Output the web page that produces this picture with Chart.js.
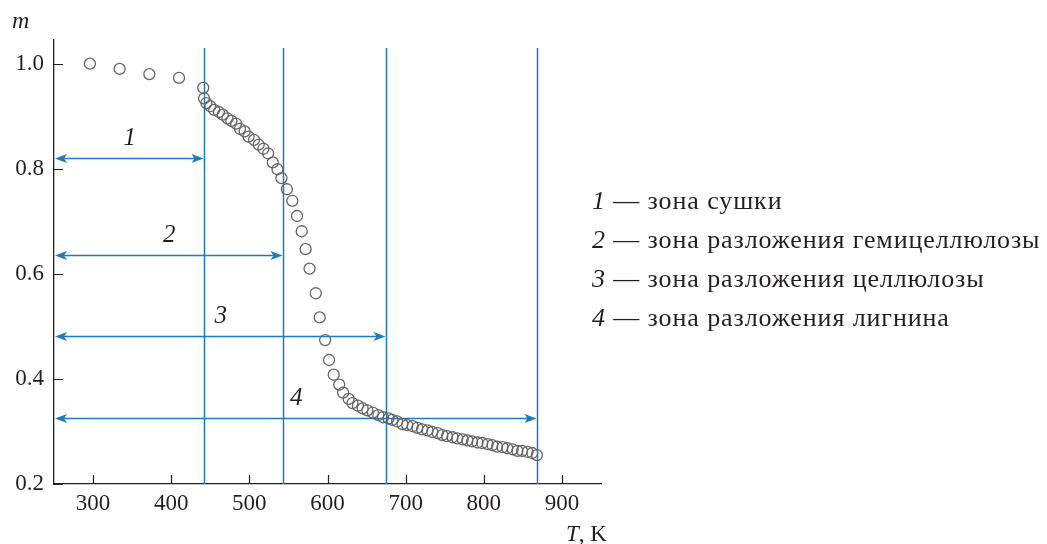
<!DOCTYPE html>
<html>
<head>
<meta charset="utf-8">
<script src="https://cdn.jsdelivr.net/npm/chart.js@4.4.1/dist/chart.umd.min.js"></script>
<style>
  html, body { margin: 0; padding: 0; background: #fff; }
  #wrap { position: relative; width: 1047px; height: 544px; font-family: "Liberation Serif", "DejaVu Serif", serif; color: #231f20; }
  #wrap canvas { position: absolute; left: 0; top: 0; }
  .lbl { position: absolute; font-size: 23px; white-space: nowrap; line-height: 1; }
  .legend-row { position: absolute; left: 592px; font-size: 26px; letter-spacing: 0.9px; white-space: nowrap; line-height: 1; }
</style>
</head>
<body>
<div id="wrap">
  <canvas id="massChart" width="1047" height="544"></canvas>
  <div class="lbl" style="left:12px; top:8px; font-size:24px;"><i>m</i></div>
  <div class="lbl" style="left:566px; top:522px;"><i>T</i>, K</div>
  <div id="legend"></div>
</div>
<script>
// Температура, К
const temperatureK = [
  296, 334, 372, 410, 441, 442, 445, 450, 455, 461,
  466, 472, 477, 483, 488, 494, 499, 506, 512, 518,
  524, 530, 536, 541, 548, 555, 561, 567, 572, 577,
  585, 590, 597, 602, 608, 615, 620, 627, 632, 639,
  645, 651, 658, 665, 671, 678, 683, 689, 696, 702,
  709, 715, 721, 728, 734, 741, 747, 753, 760, 766,
  773, 779, 785, 792, 798, 805, 811, 817, 824, 830,
  837, 843, 849, 856, 862, 868
];
// Относительная масса m
const massFraction = [
  1.000, 0.990, 0.980, 0.973, 0.954, 0.934, 0.925, 0.919, 0.912, 0.908,
  0.903, 0.896, 0.891, 0.886, 0.876, 0.871, 0.861, 0.855, 0.846, 0.838,
  0.829, 0.812, 0.799, 0.782, 0.761, 0.739, 0.710, 0.681, 0.647, 0.610,
  0.563, 0.517, 0.474, 0.436, 0.408, 0.389, 0.374, 0.362, 0.354, 0.349,
  0.344, 0.340, 0.336, 0.331, 0.327, 0.325, 0.322, 0.319, 0.314, 0.312,
  0.310, 0.307, 0.304, 0.302, 0.299, 0.297, 0.293, 0.291, 0.289, 0.287,
  0.285, 0.283, 0.281, 0.279, 0.278, 0.276, 0.274, 0.271, 0.270, 0.268,
  0.266, 0.263, 0.263, 0.261, 0.259, 0.255
];

const xTickValues = [300, 400, 500, 600, 700, 800, 900];
const yTickValues = [0.2, 0.4, 0.6, 0.8, 1.0];

// Границы зон (К) и уровень стрелок (m)
const zoneBoundaryK = [442, 543, 675, 868];
const zoneArrowM = [0.82, 0.635, 0.482, 0.326];
const zoneNumbers = ['1', '2', '3', '4'];
const zoneNames = [
  'зона сушки',
  'зона разложения гемицеллюлозы',
  'зона разложения целлюлозы',
  'зона разложения лигнина'
];

const ZONE_COLOR = '#1f7ac2';
const FONT_FAMILY = '"Liberation Serif", "DejaVu Serif", serif';
const TEXT_COLOR = '#231f20';

// легенда справа - обычный HTML текст
const legendBox = document.getElementById('legend');
zoneNames.forEach((name, i) => {
  const row = document.createElement('div');
  row.className = 'legend-row';
  row.style.top = (188 + i * 39) + 'px';
  row.innerHTML = '<i>' + zoneNumbers[i] + '</i> — ' + name;
  legendBox.appendChild(row);
});

function drawArrowHead(ctx, x, y, dir) {
  // dir = +1 вправо, -1 влево
  ctx.beginPath();
  ctx.moveTo(x, y);
  ctx.lineTo(x - dir * 12, y - 4.5);
  ctx.lineTo(x - dir * 9, y);
  ctx.lineTo(x - dir * 12, y + 4.5);
  ctx.closePath();
  ctx.fill();
}

// Вертикальные границы зон и стрелки
const zonesPlugin = {
  id: 'zones',
  beforeDatasetsDraw(chart) {
    const { ctx, chartArea, scales: { x, y } } = chart;
    ctx.save();
    ctx.strokeStyle = ZONE_COLOR;
    ctx.fillStyle = ZONE_COLOR;
    ctx.lineWidth = 1.5;

    const lineTop = y.getPixelForValue(1.03);
    zoneBoundaryK.forEach((t, i) => {
      const px = Math.round(x.getPixelForValue(t)) + 0.5;
      ctx.beginPath();
      ctx.moveTo(px, lineTop);
      ctx.lineTo(px, chartArea.bottom);
      ctx.stroke();

      const py = Math.round(y.getPixelForValue(zoneArrowM[i])) + 0.5;
      const left = chartArea.left + 1;
      ctx.beginPath();
      ctx.moveTo(left + 8, py);
      ctx.lineTo(px - 8, py);
      ctx.stroke();
      drawArrowHead(ctx, left, py, -1);
      drawArrowHead(ctx, px - 1, py, 1);

      ctx.fillStyle = TEXT_COLOR;
      ctx.font = 'italic 25px ' + FONT_FAMILY;
      ctx.textAlign = 'center';
      ctx.textBaseline = 'middle';
      ctx.fillText(zoneNumbers[i], (left + px) / 2, py - 20);
      ctx.fillStyle = ZONE_COLOR;
    });
    ctx.restore();
  }
};

// Засечки внутрь области графика
const innerTicksPlugin = {
  id: 'innerTicks',
  afterDraw(chart) {
    const { ctx, chartArea, scales: { x, y } } = chart;
    ctx.save();
    ctx.strokeStyle = TEXT_COLOR;
    ctx.lineWidth = 1.2;
    ctx.beginPath();
    xTickValues.forEach(v => {
      const px = Math.round(x.getPixelForValue(v)) + 0.5;
      ctx.moveTo(px, chartArea.bottom);
      ctx.lineTo(px, chartArea.bottom - 9);
    });
    yTickValues.forEach(v => {
      const py = Math.round(y.getPixelForValue(v)) + 0.5;
      ctx.moveTo(chartArea.left, py);
      ctx.lineTo(chartArea.left + 9, py);
    });
    ctx.stroke();
    ctx.restore();
  }
};

const ctx = document.getElementById('massChart').getContext('2d');
new Chart(ctx, {
  type: 'scatter',
  data: {
    datasets: [{
      data: temperatureK.map((t, i) => ({ x: t, y: massFraction[i] })),
      pointStyle: 'circle',
      pointRadius: 5.5,
      pointBorderWidth: 1.3,
      pointBorderColor: '#666666',
      pointBackgroundColor: 'rgba(255,255,255,0)',
      showLine: false
    }]
  },
  options: {
    responsive: false,
    animation: false,
    layout: { padding: { left: 0, top: 40, right: 446, bottom: 0 } },
    plugins: { legend: { display: false }, tooltip: { enabled: false } },
    scales: {
      x: {
        type: 'linear',
        min: 250,
        max: 950,
        afterBuildTicks: s => { s.ticks = xTickValues.map(v => ({ value: v })); },
        afterFit: s => { s.height = 60; },
        grid: { display: false, drawTicks: false },
        border: { display: true, color: TEXT_COLOR, width: 1.3 },
        ticks: {
          color: TEXT_COLOR,
          font: { family: FONT_FAMILY, size: 23 },
          padding: 6,
          maxRotation: 0
        }
      },
      y: {
        type: 'linear',
        min: 0.2,
        max: 1.045,
        afterBuildTicks: s => { s.ticks = yTickValues.map(v => ({ value: v })); },
        afterFit: s => { s.width = 54; },
        grid: { display: false, drawTicks: false },
        border: { display: true, color: TEXT_COLOR, width: 1.3 },
        ticks: {
          color: TEXT_COLOR,
          font: { family: FONT_FAMILY, size: 23 },
          padding: 10,
          callback: v => v.toFixed(1)
        }
      }
    }
  },
  plugins: [zonesPlugin, innerTicksPlugin]
});
</script>
</body>
</html>
